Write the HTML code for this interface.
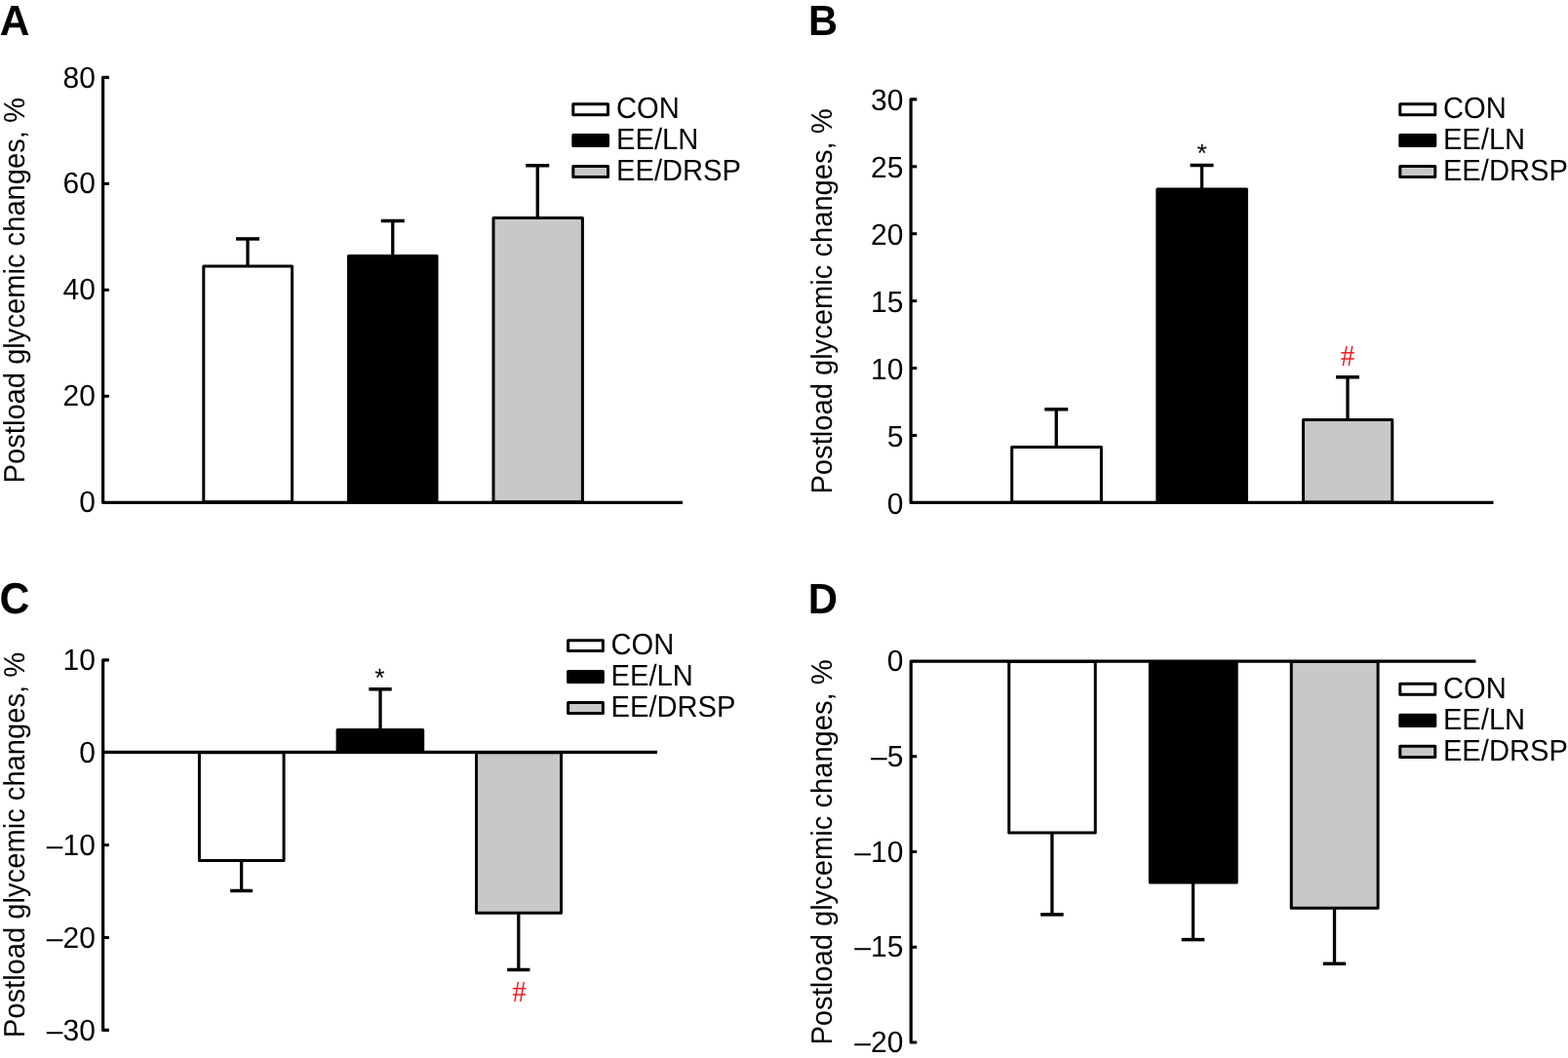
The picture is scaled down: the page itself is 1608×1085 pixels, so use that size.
<!DOCTYPE html>
<html lang="en">
<head>
<meta charset="utf-8">
<title>Postload glycemic changes, % — CON, EE/LN, EE/DRSP</title>
<style>
html, body { margin: 0; padding: 0; background: #fff; }
body { width: 1608px; height: 1085px; overflow: hidden; }
svg { display: block; }
text { font-kerning: normal; text-rendering: geometricPrecision; }
</style>
</head>
<body>
<svg width="1608" height="1085" viewBox="0 0 1608 1085">
<rect x="0" y="0" width="1608" height="1085" fill="#fff"/>
<text transform="translate(-0.30,36.10) scale(0.975,1)" font-family='"Liberation Sans", sans-serif' font-size="43.6" font-weight="bold" fill="#000" text-anchor="start">A</text>
<text transform="translate(25.00,495.40) rotate(-90) scale(0.9656,1)" font-family='"Liberation Sans", sans-serif' font-size="30.2" fill="#000">Postload glycemic changes, %</text>
<rect x="208.80" y="273.00" width="90.75" height="241.80" fill="#fff" stroke="#000" stroke-width="3.0" stroke-linejoin="round"/>
<line x1="254.00" y1="272.00" x2="254.00" y2="244.95" stroke="#000" stroke-width="3.3" stroke-linecap="butt"/>
<line x1="242.00" y1="244.95" x2="266.00" y2="244.95" stroke="#000" stroke-width="3.5" stroke-linecap="butt"/>
<rect x="357.50" y="262.50" width="90.50" height="252.30" fill="#000" stroke="#000" stroke-width="3.0" stroke-linejoin="round"/>
<line x1="402.75" y1="262.00" x2="402.75" y2="226.50" stroke="#000" stroke-width="3.3" stroke-linecap="butt"/>
<line x1="390.75" y1="226.50" x2="414.75" y2="226.50" stroke="#000" stroke-width="3.5" stroke-linecap="butt"/>
<rect x="506.00" y="223.50" width="91.40" height="291.30" fill="#c7c8ca" stroke="#000" stroke-width="3.0" stroke-linejoin="round"/>
<line x1="551.25" y1="223.00" x2="551.25" y2="169.75" stroke="#000" stroke-width="3.3" stroke-linecap="butt"/>
<line x1="539.25" y1="169.75" x2="563.25" y2="169.75" stroke="#000" stroke-width="3.5" stroke-linecap="butt"/>
<path d="M111.85,79.40 L105.60,79.40 L105.60,515.30 L700.00,515.30" fill="none" stroke="#000" stroke-width="3.2" stroke-linejoin="round" stroke-linecap="butt"/>
<text transform="translate(97.90,90.00) scale(0.98,1)" font-family='"Liberation Sans", sans-serif' font-size="30.6" font-weight="normal" fill="#000" text-anchor="end">80</text>
<line x1="105.60" y1="188.40" x2="111.85" y2="188.40" stroke="#000" stroke-width="3.0" stroke-linecap="butt"/>
<text transform="translate(97.90,198.00) scale(0.98,1)" font-family='"Liberation Sans", sans-serif' font-size="30.6" font-weight="normal" fill="#000" text-anchor="end">60</text>
<line x1="105.60" y1="297.35" x2="111.85" y2="297.35" stroke="#000" stroke-width="3.0" stroke-linecap="butt"/>
<text transform="translate(97.90,307.00) scale(0.98,1)" font-family='"Liberation Sans", sans-serif' font-size="30.6" font-weight="normal" fill="#000" text-anchor="end">40</text>
<line x1="105.60" y1="406.30" x2="111.85" y2="406.30" stroke="#000" stroke-width="3.0" stroke-linecap="butt"/>
<text transform="translate(97.90,416.00) scale(0.98,1)" font-family='"Liberation Sans", sans-serif' font-size="30.6" font-weight="normal" fill="#000" text-anchor="end">20</text>
<text transform="translate(97.90,525.00) scale(0.98,1)" font-family='"Liberation Sans", sans-serif' font-size="30.6" font-weight="normal" fill="#000" text-anchor="end">0</text>
<rect x="587.80" y="106.75" width="35.70" height="11.00" fill="#fff" stroke="#000" stroke-width="3.0" stroke-linejoin="round"/>
<text transform="translate(632.00,121.10) scale(0.953,1)" font-family='"Liberation Sans", sans-serif' font-size="30.6" font-weight="normal" fill="#000" text-anchor="start">CON</text>
<rect x="587.80" y="138.50" width="35.70" height="11.00" fill="#000" stroke="#000" stroke-width="3.0" stroke-linejoin="round"/>
<text transform="translate(632.00,152.85) scale(0.953,1)" font-family='"Liberation Sans", sans-serif' font-size="30.6" font-weight="normal" fill="#000" text-anchor="start">EE/LN</text>
<rect x="587.80" y="170.50" width="35.70" height="11.00" fill="#c7c8ca" stroke="#000" stroke-width="3.0" stroke-linejoin="round"/>
<text transform="translate(632.00,184.85) scale(0.953,1)" font-family='"Liberation Sans", sans-serif' font-size="30.6" font-weight="normal" fill="#000" text-anchor="start">EE/DRSP</text>
<text transform="translate(829.05,36.10) scale(0.952,1)" font-family='"Liberation Sans", sans-serif' font-size="43.6" font-weight="bold" fill="#000" text-anchor="start">B</text>
<text transform="translate(853.40,506.60) rotate(-90) scale(0.9656,1)" font-family='"Liberation Sans", sans-serif' font-size="30.2" fill="#000">Postload glycemic changes, %</text>
<rect x="1037.70" y="458.40" width="91.70" height="56.50" fill="#fff" stroke="#000" stroke-width="3.0" stroke-linejoin="round"/>
<line x1="1083.25" y1="458.00" x2="1083.25" y2="419.75" stroke="#000" stroke-width="3.3" stroke-linecap="butt"/>
<line x1="1071.25" y1="419.75" x2="1095.25" y2="419.75" stroke="#000" stroke-width="3.5" stroke-linecap="butt"/>
<rect x="1186.85" y="194.00" width="91.65" height="320.90" fill="#000" stroke="#000" stroke-width="3.0" stroke-linejoin="round"/>
<line x1="1232.50" y1="193.00" x2="1232.50" y2="169.50" stroke="#000" stroke-width="3.3" stroke-linecap="butt"/>
<line x1="1220.50" y1="169.50" x2="1244.50" y2="169.50" stroke="#000" stroke-width="3.5" stroke-linecap="butt"/>
<rect x="1336.50" y="430.50" width="91.30" height="84.40" fill="#c7c8ca" stroke="#000" stroke-width="3.0" stroke-linejoin="round"/>
<line x1="1382.00" y1="430.00" x2="1382.00" y2="386.75" stroke="#000" stroke-width="3.3" stroke-linecap="butt"/>
<line x1="1370.00" y1="386.75" x2="1394.00" y2="386.75" stroke="#000" stroke-width="3.5" stroke-linecap="butt"/>
<path d="M940.25,101.90 L934.10,101.90 L934.10,515.40 L1531.50,515.40" fill="none" stroke="#000" stroke-width="3.2" stroke-linejoin="round" stroke-linecap="butt"/>
<text transform="translate(926.40,526.90) scale(0.98,1)" font-family='"Liberation Sans", sans-serif' font-size="30.6" font-weight="normal" fill="#000" text-anchor="end">0</text>
<line x1="934.10" y1="446.48" x2="940.25" y2="446.48" stroke="#000" stroke-width="3.0" stroke-linecap="butt"/>
<text transform="translate(926.40,457.98) scale(0.98,1)" font-family='"Liberation Sans", sans-serif' font-size="30.6" font-weight="normal" fill="#000" text-anchor="end">5</text>
<line x1="934.10" y1="377.57" x2="940.25" y2="377.57" stroke="#000" stroke-width="3.0" stroke-linecap="butt"/>
<text transform="translate(926.40,389.07) scale(0.98,1)" font-family='"Liberation Sans", sans-serif' font-size="30.6" font-weight="normal" fill="#000" text-anchor="end">10</text>
<line x1="934.10" y1="308.65" x2="940.25" y2="308.65" stroke="#000" stroke-width="3.0" stroke-linecap="butt"/>
<text transform="translate(926.40,320.15) scale(0.98,1)" font-family='"Liberation Sans", sans-serif' font-size="30.6" font-weight="normal" fill="#000" text-anchor="end">15</text>
<line x1="934.10" y1="239.73" x2="940.25" y2="239.73" stroke="#000" stroke-width="3.0" stroke-linecap="butt"/>
<text transform="translate(926.40,251.23) scale(0.98,1)" font-family='"Liberation Sans", sans-serif' font-size="30.6" font-weight="normal" fill="#000" text-anchor="end">20</text>
<line x1="934.10" y1="170.82" x2="940.25" y2="170.82" stroke="#000" stroke-width="3.0" stroke-linecap="butt"/>
<text transform="translate(926.40,182.32) scale(0.98,1)" font-family='"Liberation Sans", sans-serif' font-size="30.6" font-weight="normal" fill="#000" text-anchor="end">25</text>
<text transform="translate(926.40,113.40) scale(0.98,1)" font-family='"Liberation Sans", sans-serif' font-size="30.6" font-weight="normal" fill="#000" text-anchor="end">30</text>
<rect x="1435.80" y="106.75" width="36.00" height="11.00" fill="#fff" stroke="#000" stroke-width="3.0" stroke-linejoin="round"/>
<text transform="translate(1479.90,121.10) scale(0.953,1)" font-family='"Liberation Sans", sans-serif' font-size="30.6" font-weight="normal" fill="#000" text-anchor="start">CON</text>
<rect x="1435.80" y="138.50" width="36.00" height="11.00" fill="#000" stroke="#000" stroke-width="3.0" stroke-linejoin="round"/>
<text transform="translate(1479.90,152.85) scale(0.953,1)" font-family='"Liberation Sans", sans-serif' font-size="30.6" font-weight="normal" fill="#000" text-anchor="start">EE/LN</text>
<rect x="1435.80" y="170.50" width="36.00" height="11.00" fill="#c7c8ca" stroke="#000" stroke-width="3.0" stroke-linejoin="round"/>
<text transform="translate(1479.90,184.85) scale(0.953,1)" font-family='"Liberation Sans", sans-serif' font-size="30.6" font-weight="normal" fill="#000" text-anchor="start">EE/DRSP</text>
<text transform="translate(1232.65,166.00) scale(1,1)" font-family='"Liberation Sans", sans-serif' font-size="26.5" font-weight="normal" fill="#000" text-anchor="middle">*</text>
<text transform="translate(1382.00,374.75) scale(0.95,1)" font-family='"Liberation Serif", serif' font-size="30.6" font-weight="normal" fill="#ed1c24" text-anchor="middle">#</text>
<text transform="translate(-0.60,628.50) scale(0.958,1)" font-family='"Liberation Sans", sans-serif' font-size="44.6" font-weight="bold" fill="#000" text-anchor="start">C</text>
<text transform="translate(25.00,1064.20) rotate(-90) scale(0.9656,1)" font-family='"Liberation Sans", sans-serif' font-size="30.2" fill="#000">Postload glycemic changes, %</text>
<rect x="204.40" y="771.80" width="86.65" height="110.70" fill="#fff" stroke="#000" stroke-width="3.0" stroke-linejoin="round"/>
<line x1="247.60" y1="882.00" x2="247.60" y2="913.50" stroke="#000" stroke-width="3.3" stroke-linecap="butt"/>
<line x1="236.10" y1="913.50" x2="259.10" y2="913.50" stroke="#000" stroke-width="3.5" stroke-linecap="butt"/>
<rect x="346.10" y="748.40" width="87.60" height="22.40" fill="#000" stroke="#000" stroke-width="3.0" stroke-linejoin="round"/>
<line x1="390.00" y1="748.00" x2="390.00" y2="706.75" stroke="#000" stroke-width="3.3" stroke-linecap="butt"/>
<line x1="378.30" y1="706.75" x2="401.70" y2="706.75" stroke="#000" stroke-width="3.5" stroke-linecap="butt"/>
<rect x="488.50" y="771.80" width="87.00" height="164.40" fill="#c7c8ca" stroke="#000" stroke-width="3.0" stroke-linejoin="round"/>
<line x1="531.80" y1="936.00" x2="531.80" y2="994.50" stroke="#000" stroke-width="3.3" stroke-linecap="butt"/>
<line x1="520.20" y1="994.50" x2="543.40" y2="994.50" stroke="#000" stroke-width="3.5" stroke-linecap="butt"/>
<path d="M111.85,676.80 L105.65,676.80 L105.65,1056.40 L111.85,1056.40" fill="none" stroke="#000" stroke-width="3.2" stroke-linejoin="round" stroke-linecap="butt"/>
<line x1="105.65" y1="771.30" x2="674.00" y2="771.30" stroke="#000" stroke-width="3.2" stroke-linecap="butt"/>
<text transform="translate(97.90,687.40) scale(0.98,1)" font-family='"Liberation Sans", sans-serif' font-size="30.6" font-weight="normal" fill="#000" text-anchor="end">10</text>
<text transform="translate(97.90,782.30) scale(0.98,1)" font-family='"Liberation Sans", sans-serif' font-size="30.6" font-weight="normal" fill="#000" text-anchor="end">0</text>
<line x1="105.65" y1="866.60" x2="111.85" y2="866.60" stroke="#000" stroke-width="3.0" stroke-linecap="butt"/>
<text transform="translate(97.90,877.20) scale(0.98,1)" font-family='"Liberation Sans", sans-serif' font-size="30.6" font-weight="normal" fill="#000" text-anchor="end">–10</text>
<line x1="105.65" y1="961.50" x2="111.85" y2="961.50" stroke="#000" stroke-width="3.0" stroke-linecap="butt"/>
<text transform="translate(97.90,972.10) scale(0.98,1)" font-family='"Liberation Sans", sans-serif' font-size="30.6" font-weight="normal" fill="#000" text-anchor="end">–20</text>
<text transform="translate(97.90,1067.00) scale(0.98,1)" font-family='"Liberation Sans", sans-serif' font-size="30.6" font-weight="normal" fill="#000" text-anchor="end">–30</text>
<rect x="582.60" y="656.70" width="35.75" height="10.90" fill="#fff" stroke="#000" stroke-width="3.0" stroke-linejoin="round"/>
<text transform="translate(626.50,670.95) scale(0.953,1)" font-family='"Liberation Sans", sans-serif' font-size="30.6" font-weight="normal" fill="#000" text-anchor="start">CON</text>
<rect x="582.60" y="688.50" width="35.75" height="11.00" fill="#000" stroke="#000" stroke-width="3.0" stroke-linejoin="round"/>
<text transform="translate(626.50,702.85) scale(0.953,1)" font-family='"Liberation Sans", sans-serif' font-size="30.6" font-weight="normal" fill="#000" text-anchor="start">EE/LN</text>
<rect x="582.60" y="720.50" width="35.75" height="11.00" fill="#c7c8ca" stroke="#000" stroke-width="3.0" stroke-linejoin="round"/>
<text transform="translate(626.50,734.85) scale(0.953,1)" font-family='"Liberation Sans", sans-serif' font-size="30.6" font-weight="normal" fill="#000" text-anchor="start">EE/DRSP</text>
<text transform="translate(389.50,704.00) scale(1,1)" font-family='"Liberation Sans", sans-serif' font-size="26.5" font-weight="normal" fill="#000" text-anchor="middle">*</text>
<text transform="translate(532.60,1027.30) scale(0.95,1)" font-family='"Liberation Serif", serif' font-size="30.6" font-weight="normal" fill="#ed1c24" text-anchor="middle">#</text>
<text transform="translate(828.70,629.00) scale(0.961,1)" font-family='"Liberation Sans", sans-serif' font-size="43.6" font-weight="bold" fill="#000" text-anchor="start">D</text>
<text transform="translate(853.40,1071.60) rotate(-90) scale(0.9656,1)" font-family='"Liberation Sans", sans-serif' font-size="30.2" fill="#000">Postload glycemic changes, %</text>
<rect x="1034.75" y="678.50" width="88.50" height="175.40" fill="#fff" stroke="#000" stroke-width="3.0" stroke-linejoin="round"/>
<line x1="1078.90" y1="853.00" x2="1078.90" y2="937.90" stroke="#000" stroke-width="3.3" stroke-linecap="butt"/>
<line x1="1067.10" y1="937.90" x2="1090.70" y2="937.90" stroke="#000" stroke-width="3.5" stroke-linecap="butt"/>
<rect x="1179.30" y="678.50" width="88.90" height="226.40" fill="#000" stroke="#000" stroke-width="3.0" stroke-linejoin="round"/>
<line x1="1223.50" y1="904.00" x2="1223.50" y2="963.60" stroke="#000" stroke-width="3.3" stroke-linecap="butt"/>
<line x1="1211.70" y1="963.60" x2="1235.30" y2="963.60" stroke="#000" stroke-width="3.5" stroke-linecap="butt"/>
<rect x="1324.25" y="678.50" width="88.85" height="252.80" fill="#c7c8ca" stroke="#000" stroke-width="3.0" stroke-linejoin="round"/>
<line x1="1368.50" y1="931.00" x2="1368.50" y2="988.30" stroke="#000" stroke-width="3.3" stroke-linecap="butt"/>
<line x1="1356.80" y1="988.30" x2="1380.20" y2="988.30" stroke="#000" stroke-width="3.5" stroke-linecap="butt"/>
<path d="M1513.50,678.20 L934.20,678.20 L934.20,1069.00 L940.25,1069.00" fill="none" stroke="#000" stroke-width="3.2" stroke-linejoin="round" stroke-linecap="butt"/>
<text transform="translate(926.40,688.20) scale(0.98,1)" font-family='"Liberation Sans", sans-serif' font-size="30.6" font-weight="normal" fill="#000" text-anchor="end">0</text>
<line x1="934.20" y1="775.75" x2="940.25" y2="775.75" stroke="#000" stroke-width="3.0" stroke-linecap="butt"/>
<text transform="translate(926.40,785.95) scale(0.98,1)" font-family='"Liberation Sans", sans-serif' font-size="30.6" font-weight="normal" fill="#000" text-anchor="end">–5</text>
<line x1="934.20" y1="873.50" x2="940.25" y2="873.50" stroke="#000" stroke-width="3.0" stroke-linecap="butt"/>
<text transform="translate(926.40,883.70) scale(0.98,1)" font-family='"Liberation Sans", sans-serif' font-size="30.6" font-weight="normal" fill="#000" text-anchor="end">–10</text>
<line x1="934.20" y1="971.25" x2="940.25" y2="971.25" stroke="#000" stroke-width="3.0" stroke-linecap="butt"/>
<text transform="translate(926.40,981.45) scale(0.98,1)" font-family='"Liberation Sans", sans-serif' font-size="30.6" font-weight="normal" fill="#000" text-anchor="end">–15</text>
<text transform="translate(926.40,1079.20) scale(0.98,1)" font-family='"Liberation Sans", sans-serif' font-size="30.6" font-weight="normal" fill="#000" text-anchor="end">–20</text>
<rect x="1435.80" y="701.20" width="36.00" height="11.10" fill="#fff" stroke="#000" stroke-width="3.0" stroke-linejoin="round"/>
<text transform="translate(1479.90,715.85) scale(0.953,1)" font-family='"Liberation Sans", sans-serif' font-size="30.6" font-weight="normal" fill="#000" text-anchor="start">CON</text>
<rect x="1435.80" y="733.30" width="36.00" height="11.10" fill="#000" stroke="#000" stroke-width="3.0" stroke-linejoin="round"/>
<text transform="translate(1479.90,747.95) scale(0.953,1)" font-family='"Liberation Sans", sans-serif' font-size="30.6" font-weight="normal" fill="#000" text-anchor="start">EE/LN</text>
<rect x="1435.80" y="765.30" width="36.00" height="11.10" fill="#c7c8ca" stroke="#000" stroke-width="3.0" stroke-linejoin="round"/>
<text transform="translate(1479.90,779.95) scale(0.953,1)" font-family='"Liberation Sans", sans-serif' font-size="30.6" font-weight="normal" fill="#000" text-anchor="start">EE/DRSP</text>
</svg>
</body>
</html>
